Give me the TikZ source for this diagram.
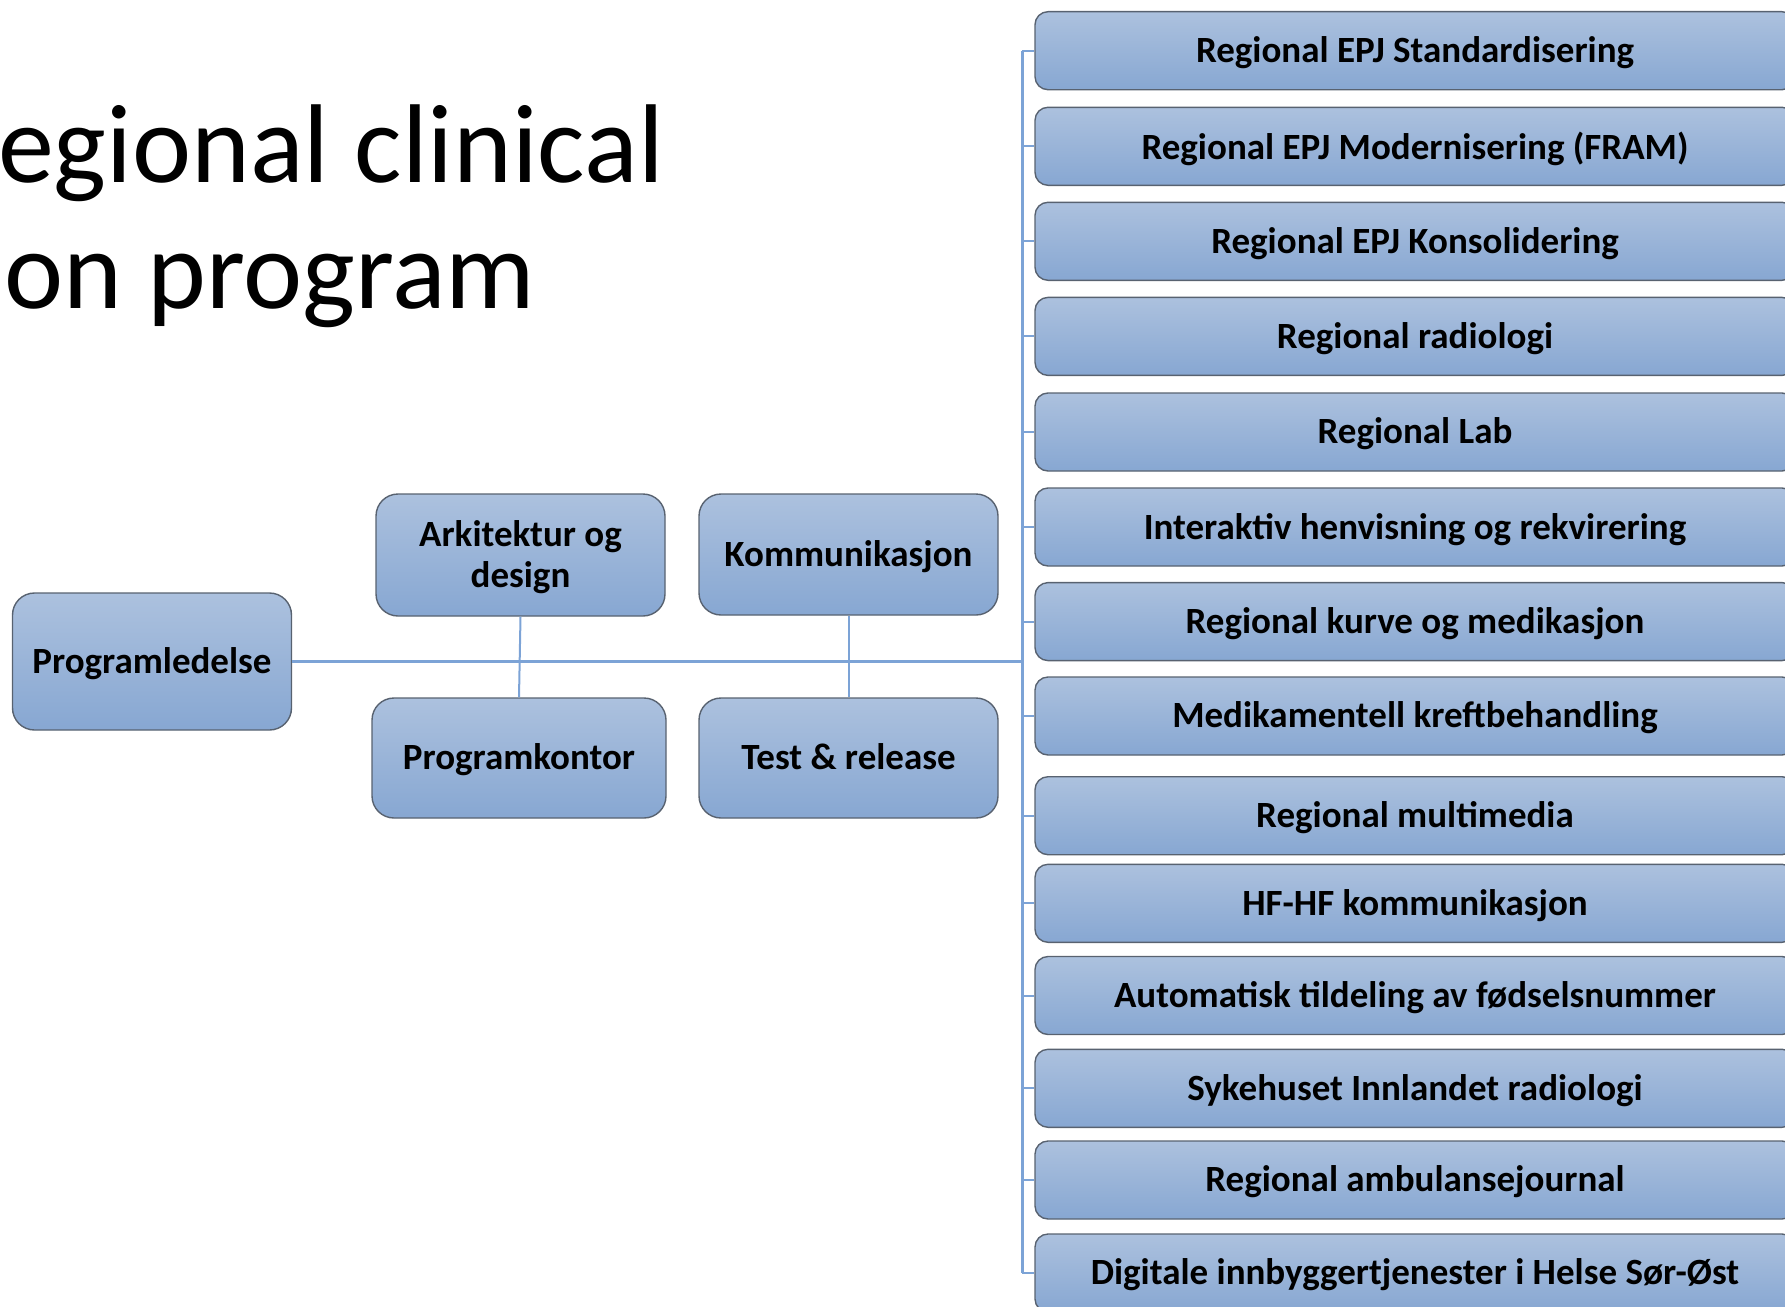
\documentclass[tikz,border=0pt]{standalone}
\usepackage{fontspec}
\setmainfont{Carlito}
\begin{document}
\begin{tikzpicture}[x=1pt,y=-1pt,
  boxfill/.style={draw={rgb,255:red,88;green,98;blue,112}, line width=1.4pt,
    top color={rgb,255:red,172;green,193;blue,222},
    bottom color={rgb,255:red,135;green,167;blue,210},
    font=\fontsize{37}{41}\selectfont\bfseries, text=black, align=center, inner sep=0pt,
    text depth=2pt},
  leftbox/.style={boxfill, rounded corners=22pt},
  rightbox/.style={boxfill, rounded corners=13pt, minimum width=760pt, minimum height=78pt},
  conn/.style={draw={rgb,255:red,124;green,163;blue,214}, line width=2pt},
  mainconn/.style={draw={rgb,255:red,124;green,163;blue,214}, line width=3pt},
  titletext/.style={anchor=base west, inner sep=0pt, font=\fontsize{112}{127}\selectfont}
]
\useasboundingbox (0,0) rectangle (1785,1306);
\clip (0,0) rectangle (1785,1306);

% title
\node[titletext] (t1) at (-2,182) {egional clinical};
\node[titletext] (t2) at (4,308) {on program};

% left boxes
\node[leftbox, minimum width=279pt, minimum height=137pt] (pl) at (152,661.5) {Programledelse};
\node[leftbox, minimum width=289pt, minimum height=122pt] (ark) at (520.5,555) {Arkitektur og\\design};
\node[leftbox, minimum width=299pt, minimum height=121pt] (kom) at (848.5,554.5) {Kommunikasjon};
\node[leftbox, minimum width=294pt, minimum height=120pt] (pk) at (519,758) {Programkontor};
\node[leftbox, minimum width=299pt, minimum height=120pt] (tr) at (848.5,758) {Test \& release};

% right boxes
\node[rightbox] (r1) at (1415,50.7) {Regional EPJ Standardisering};
\node[rightbox] (r2) at (1415,146.3) {Regional EPJ Modernisering (FRAM)};
\node[rightbox] (r3) at (1415,241.3) {Regional EPJ Konsolidering};
\node[rightbox] (r4) at (1415,336.4) {Regional radiologi};
\node[rightbox] (r5) at (1415,432) {Regional Lab};
\node[rightbox] (r6) at (1415,527) {Interaktiv henvisning og rekvirering};
\node[rightbox] (r7) at (1415,621.6) {Regional kurve og medikasjon};
\node[rightbox] (r8) at (1415,716) {Medikamentell kreftbehandling};
\node[rightbox] (r9) at (1415,815.7) {Regional multimedia};
\node[rightbox] (r10) at (1415,903.3) {HF-HF kommunikasjon};
\node[rightbox] (r11) at (1415,995.5) {Automatisk tildeling av fødselsnummer};
\node[rightbox] (r12) at (1415,1088.3) {Sykehuset Innlandet radiologi};
\node[rightbox] (r13) at (1415,1180) {Regional ambulansejournal};
\node[rightbox] (r14) at (1415,1273) {Digitale innbyggertjenester i Helse Sør-Øst};

% connectors
\coordinate (hub) at (1022,661.5);
\coordinate (bustop) at (1022,50.7);
\coordinate (busbot) at (1022,1273);
\path[mainconn] (pl.east) -- (hub);
\path[mainconn] (bustop) -- (busbot);
\path[conn] (ark.south) -- (pk.north);
\path[conn] (kom.south) -- (tr.north);
\foreach \i in {1,...,14} {
  \path[conn] (1022,0 |- r\i.west) -- (r\i.west);
}
\end{tikzpicture}
\end{document}
